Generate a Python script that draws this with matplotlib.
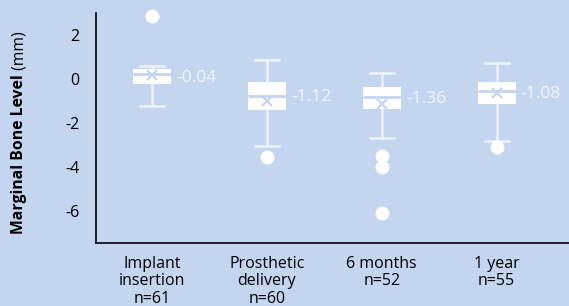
import matplotlib
matplotlib.use("Agg")
import matplotlib.pyplot as plt

categories = ["Implant\ninsertion\nn=61", "Prosthetic\ndelivery\nn=60", "6 months\nn=52", "1 year\nn=55"]
whislo = [-1.23, -3.05, -2.68, -2.82]
q1 = [-0.24, -1.42, -1.35, -1.12]
med = [0.24, -0.76, -0.83, -0.56]
q3 = [0.44, -0.15, -0.38, -0.14]
whishi = [0.60, 0.85, 0.26, 0.74]
means = [0.18, -0.99, -1.14, -0.62]
fliers = [[2.86], [-3.53], [-3.48, -3.98, -6.08], [-3.10]]
value_labels = ["-0.04", "-1.12", "-1.36", "-1.08"]
yticks = [2, 0, -2, -4, -6]

bg = "#c4d5ef"
font = "Open Sans"
plt.rcParams['font.family'] = [font, 'DejaVu Sans']

fig = plt.figure(figsize=(5.69, 3.06), dpi=100, facecolor=bg)
ax = fig.add_axes([96/569, 1 - 243/306, 1 - 96/569, (243 - 13)/306])
ax.set_facecolor(bg)

stats = []
for i in range(len(categories)):
    stats.append(dict(whislo=whislo[i], q1=q1[i], med=med[i], q3=q3[i],
                      whishi=whishi[i], mean=means[i], fliers=fliers[i]))

pos = list(range(1, len(categories) + 1))
res = ax.bxp(stats, positions=pos, widths=0.33, patch_artist=True, showmeans=True,
       boxprops=dict(facecolor="white", edgecolor="white", linewidth=0),
       medianprops=dict(color=bg, linewidth=2),
       whiskerprops=dict(color="#eef3fb", linewidth=1.8),
       capprops=dict(color="#eef3fb", linewidth=1.8),
       capwidths=0.21,
       meanprops=dict(marker="x", markeredgecolor=bg, markersize=7, markeredgewidth=1.6),
       flierprops=dict(marker="o", markerfacecolor="white", markeredgecolor="white", markersize=9))
for key in res:
    for art in res[key]:
        art.set_clip_on(False)

for i, p in enumerate(pos):
    ax.text(p + 0.21, (q1[i] + q3[i]) / 2 - 0.05, value_labels[i], color="#f2f6fc",
            fontsize=12.5, va="center", ha="left")

ax.set_xlim(0.513, 4.63)
ax.set_ylim(-7.45, 3.0)
ax.set_yticks(yticks)
ax.set_yticklabels([str(t) for t in yticks], fontsize=11.5)
ax.set_xticks(pos)
ax.set_xticklabels(categories, fontsize=11.5, linespacing=1.15, va="top")
ax.tick_params(axis="both", length=0)
ax.tick_params(axis="y", pad=12)
ax.tick_params(axis="x", pad=9)
for s in ["top", "right"]:
    ax.spines[s].set_visible(False)
for s in ["left", "bottom"]:
    ax.spines[s].set_color("black")
    ax.spines[s].set_linewidth(1.2)

t1 = fig.text(19/569, 1 - 234/306, "Marginal Bone Level", rotation=90, fontsize=11.3,
              fontweight="bold", ha="center", va="bottom")
fig.canvas.draw()
ax.annotate(" (mm)", xy=(0.5, 1.0), xycoords=t1, rotation=90, fontsize=11.3,
            ha="center", va="bottom", annotation_clip=False)

fig.savefig("out.png", dpi=100, facecolor=bg)
